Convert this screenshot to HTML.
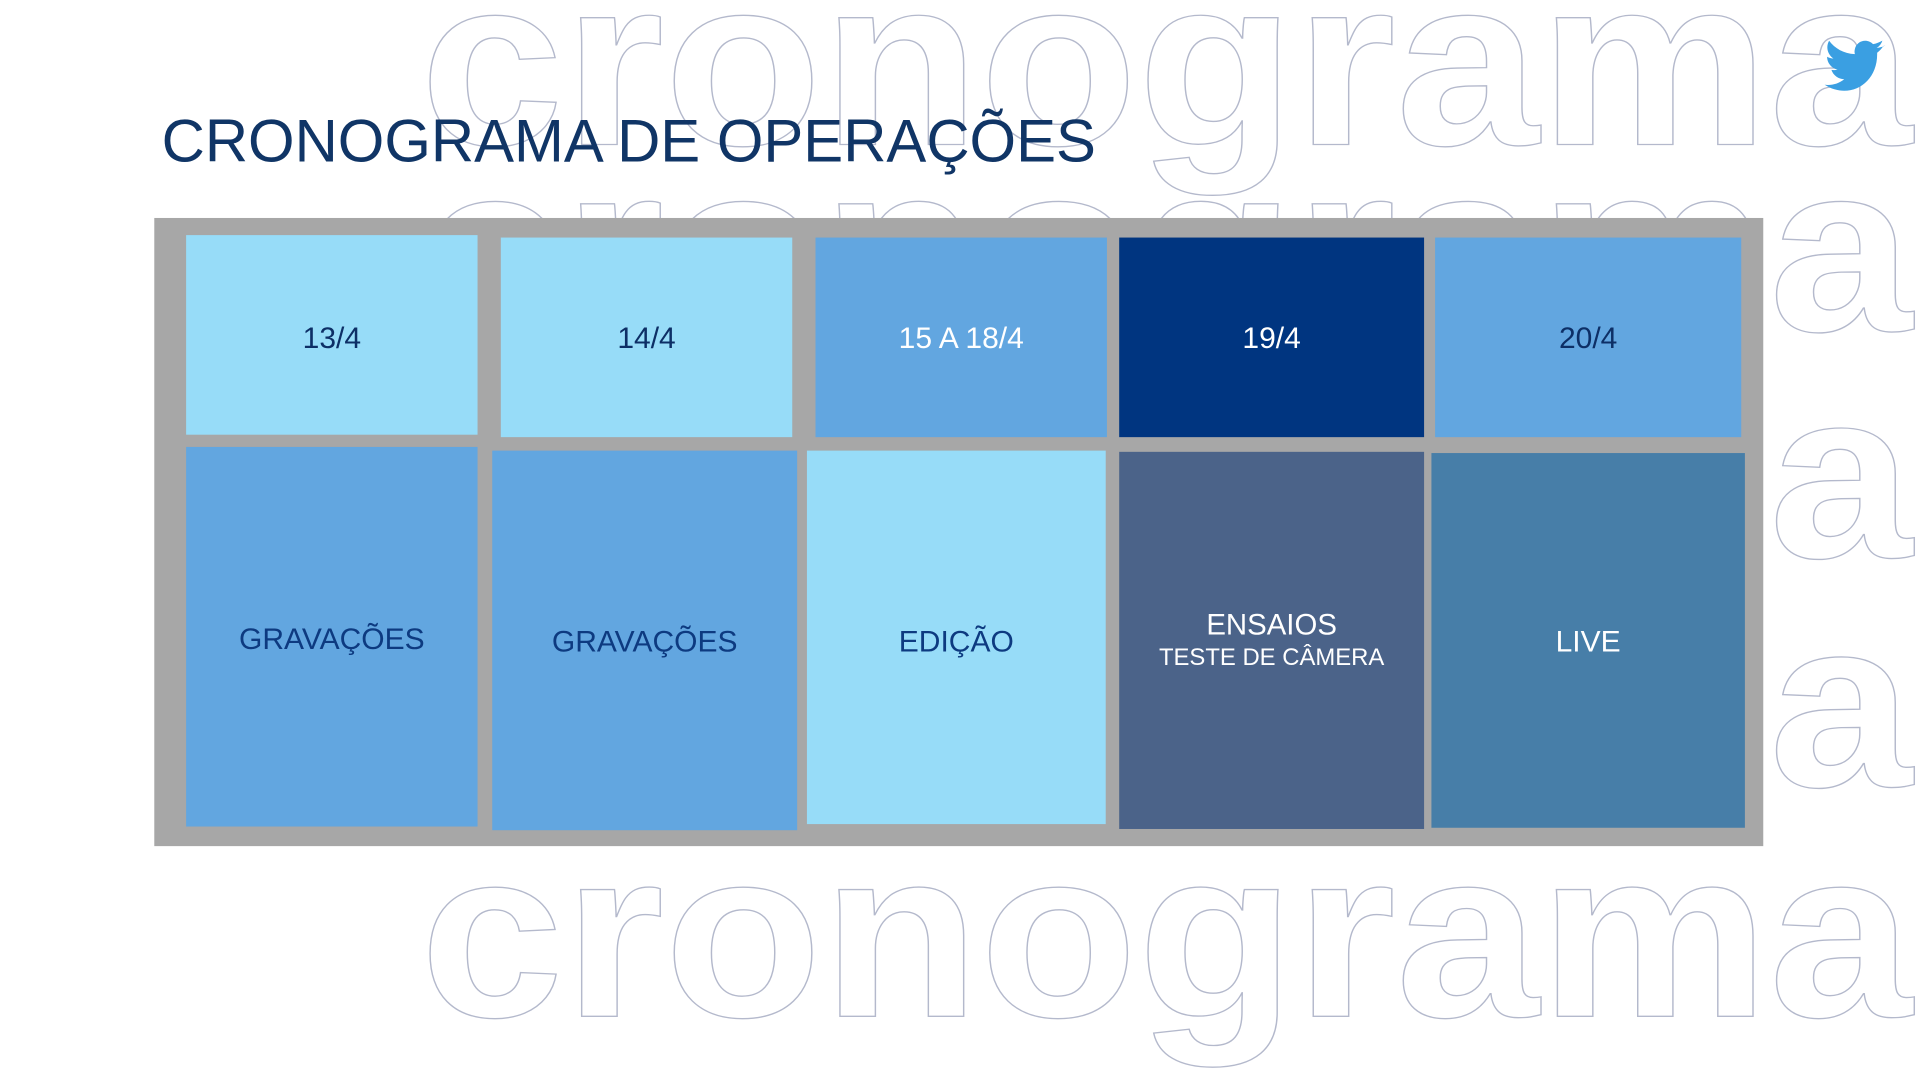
<!DOCTYPE html>
<html><head><meta charset="utf-8"><style>
html,body{margin:0;padding:0;background:#fff;overflow:hidden}
svg{display:block}
</style></head><body>
<svg id="chart" width="1920" height="1080" viewBox="0 0 1568 882" preserveAspectRatio="none" xmlns="http://www.w3.org/2000/svg">
<g id="bg" fill="none" stroke="#b4b9cc" stroke-width="1.1" font-family="Liberation Sans, sans-serif" font-weight="bold" font-size="196"></g>
<rect x="126" y="178" width="1314" height="513" fill="#a7a7a7"/>
<g id="cells"></g>
<text x="132" y="132" font-family="Liberation Sans, sans-serif" font-size="49" fill="#103566" textLength="763" lengthAdjust="spacingAndGlyphs">CRONOGRAMA DE OPERAÇÕES</text>
<path fill="#3a9fe2" transform="translate(340 6) scale(0.78)" d="M1538,40 c-3,1.5 -6,2.3 -9,2.6 c3,-2 5,-4.6 6,-7.8 c-3,1.8 -6.3,3 -9.8,3.7 c-6,-6.4 -17.6,-4 -19.2,6 c-0.3,1.5 -0.2,3 0.2,4.5 c-12,-0.6 -21,-6 -27,-14 c-4,7 -1,15 4.5,18.5 c-2.4,0 -4.6,-0.7 -6.6,-1.8 c0,7 5,12 11,13.5 c-2,0.6 -4.3,0.7 -6.5,0.3 c2,6 7.5,9.6 13.4,9.8 c-6,4.8 -13,6.6 -20.5,5.8 c25,16 55,0 55,-32 l0,-1.6 c2.6,-2 4.8,-4.3 6.5,-7 z"/>
<script>
const rowLabels = ["13/4","14/4","15 A 18/4","19/4","20/4"];
const bottomLabels = ["GRAVAÇÕES","GRAVAÇÕES","EDIÇÃO","ENSAIOS","LIVE"];
const bottomSub = ["","","","TESTE DE CÂMERA",""];
const topColors = ["#97dcf8","#97dcf8","#62a6e0","#003580","#62a6e0"];
const bottomColors = ["#62a6e0","#62a6e0","#97dcf8","#4b6389","#477ea8"];
const topText = ["#0d2f66","#0d2f66","#ffffff","#ffffff","#0d2f66"];
const bottomText = ["#0d3a80","#0d3a80","#0d3a80","#ffffff","#ffffff"];
const NS="http://www.w3.org/2000/svg";
const topBoxes=[[152,192,238,163],[409,194,238,163],[666,194,238,163],[914,194,249,163],[1172,194,250,163]];
const botBoxes=[[152,365,238,310],[402,368,249,310],[659,368,244,305],[914,369,249,308],[1169,370,256,306]];
const g=document.getElementById('cells');
function txt(x,y,s,size,fill,name){
  const t=document.createElementNS(NS,'text');
  t.setAttribute('x',x);t.setAttribute('y',y);t.setAttribute('text-anchor','middle');
  t.setAttribute('font-family','Liberation Sans, sans-serif');t.setAttribute('font-size',size);
  t.setAttribute('fill',fill);t.textContent=s;
  
  
  g.appendChild(t);
}
rowLabels.forEach((l,i)=>{
  const b=topBoxes[i];const r=document.createElementNS(NS,'rect');
  r.setAttribute('x',b[0]);r.setAttribute('y',b[1]);r.setAttribute('width',b[2]);r.setAttribute('height',b[3]);
  r.setAttribute('fill',topColors[i]);
  
  
  g.appendChild(r);
  txt(b[0]+b[2]/2,284,l,24.5,topText[i],'date-label');
});
bottomLabels.forEach((l,i)=>{
  const b=botBoxes[i];const r=document.createElementNS(NS,'rect');
  r.setAttribute('x',b[0]);r.setAttribute('y',b[1]);r.setAttribute('width',b[2]);r.setAttribute('height',b[3]);
  r.setAttribute('fill',bottomColors[i]);
  
  
  g.appendChild(r);
  const cy=(i===0?521:523)+9;
  if(bottomSub[i]){
    txt(b[0]+b[2]/2,518,l,24,bottomText[i],'activity-label');
    txt(b[0]+b[2]/2,543,bottomSub[i],19.5,bottomText[i],'activity-sublabel');
  } else txt(b[0]+b[2]/2,cy,l,24.5,bottomText[i],'activity-label');
});
const bg=document.getElementById('bg');
[118,270,455,642,830].forEach(y=>{
  const t=document.createElementNS(NS,'text');
  t.setAttribute('x',343);t.setAttribute('y',y);
  t.setAttribute('textLength',1219);t.setAttribute('lengthAdjust','spacingAndGlyphs');
  t.textContent='cronograma';
  
  
  bg.appendChild(t);
});
</script>
</svg>
</body></html>
